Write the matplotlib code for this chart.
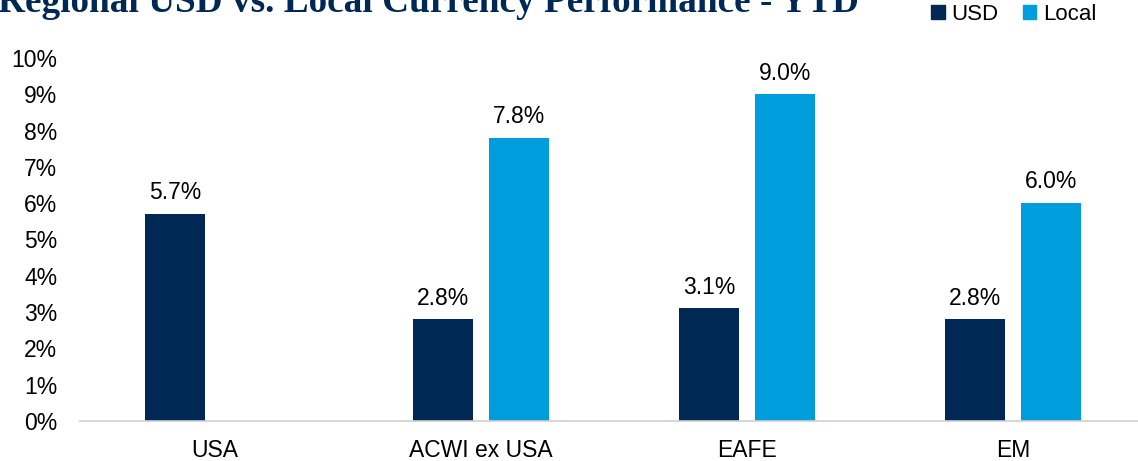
import numpy as np
import matplotlib
matplotlib.use('Agg')
import matplotlib.pyplot as plt
from matplotlib.patches import Patch

# chart data
regions = ['USA', 'ACWI ex USA', 'EAFE', 'EM']
usd = [5.7, 2.8, 3.1, 2.8]
local = [None, 7.8, 9.0, 6.0]
yticks = [0, 1, 2, 3, 4, 5, 6, 7, 8, 9, 10]

navy = '#002855'
blue = '#009DDC'

plt.rcParams['font.family'] = ['Liberation Sans', 'DejaVu Sans']

fig = plt.figure(figsize=(11.38, 4.61), dpi=100)
ax = fig.add_axes([0.070, 0.087, 0.930, 0.787])

x = np.arange(len(regions))
w = 0.225
off = 0.143

# USA has no local bar, so its USD bar sits slightly left
usd_x = [xi - off for xi in x]
usd_x[0] = x[0] - 0.15
ax.bar(usd_x, usd, width=w, color=navy)
loc_x = [x[i] + off for i in range(len(x)) if local[i] is not None]
loc_v = [v for v in local if v is not None]
ax.bar(loc_x, loc_v, width=w, color=blue)

for bx, v in list(zip(usd_x, usd)) + list(zip(loc_x, loc_v)):
    ax.annotate('%.1f%%' % v, (bx, v), xytext=(0, 7), textcoords='offset points',
                ha='center', va='bottom', fontsize=16.5)

ax.set_xlim(-0.508, 3.47)
ax.set_ylim(0, 10)
ax.set_yticks(yticks)
ax.set_yticklabels(['%d%%' % t for t in yticks], fontsize=16.5)
ax.set_xticks(x)
ax.set_xticklabels(regions, fontsize=16.5)
ax.tick_params(axis='both', length=0)
ax.tick_params(axis='x', pad=13)
ax.tick_params(axis='y', pad=16)
for s in ['top', 'right', 'left']:
    ax.spines[s].set_visible(False)
ax.spines['bottom'].set_color('#d0d0d0')
ax.spines['bottom'].set_linewidth(1.2)

# title, clipped at top like the source image
fig.text(-0.002, 1 - 12 / 461, 'Regional USD vs. Local Currency Performance - YTD',
         family=['Liberation Serif', 'DejaVu Serif'], fontweight='bold', fontsize=26.8,
         color=navy, ha='left', va='baseline')

handles = [Patch(color=navy, label='USD'), Patch(color=blue, label='Local')]
fig.legend(handles=handles, loc='upper right', bbox_to_anchor=(0.981, 1.035), ncol=2,
           frameon=False, fontsize=16, handlelength=0.6, handleheight=0.6,
           handletextpad=0.3, columnspacing=1.1)

fig.savefig('out.png', dpi=100)
